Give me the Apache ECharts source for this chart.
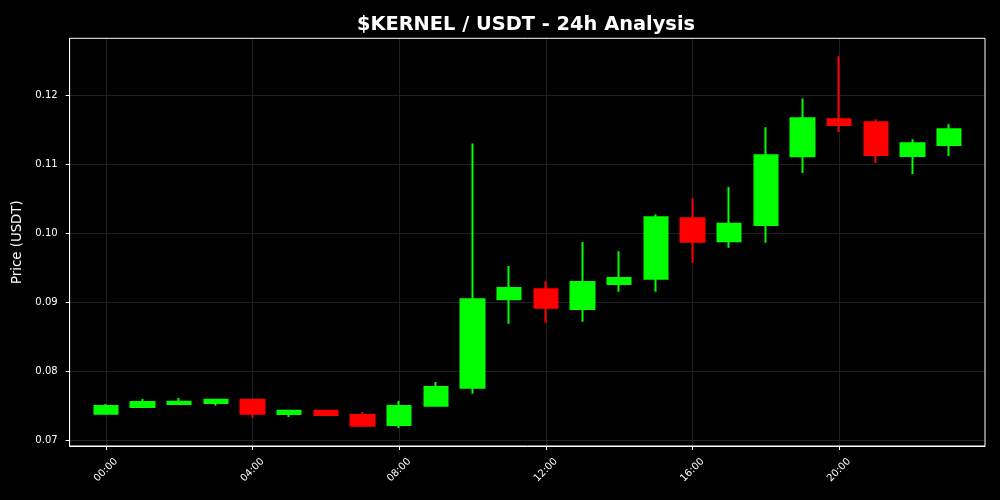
<!DOCTYPE html>
<html>
<head>
<meta charset="utf-8">
<script src="https://cdn.jsdelivr.net/npm/echarts@6/dist/echarts.min.js"></script>
<style>
html,body{margin:0;padding:0;background:#000;}
#chart{width:1000px;height:500px;}
</style>
</head>
<body>
<div id="chart"></div>
<script>
// hours since 00:00
const hours = [0,1,2,3,4,5,6,7,8,9,10,11,12,13,14,15,16,17,18,19,20,21,22,23];
const opens  = [0.07381,0.07478,0.07522,0.07536,0.07584,0.07377,0.07425,0.07362,0.07217,0.07497,0.07758,0.09043,0.09188,0.08899,0.09261,0.09338,0.10217,0.09884,0.10120,0.11116,0.11652,0.11609,0.11120,0.11280];
const closes = [0.07493,0.07551,0.07555,0.07584,0.07381,0.07425,0.07362,0.07207,0.07493,0.07768,0.09043,0.09203,0.08917,0.09290,0.09348,0.10232,0.09874,0.10135,0.11130,0.11667,0.11570,0.11135,0.11304,0.11507];
const lows   = [0.07381,0.07468,0.07512,0.07497,0.07323,0.07333,0.07360,0.07193,0.07174,0.07497,0.07671,0.08686,0.08700,0.08714,0.09149,0.09150,0.09570,0.09787,0.09860,0.10874,0.11468,0.11019,0.10859,0.11120];
const highs  = [0.07522,0.07594,0.07609,0.07599,0.07590,0.07439,0.07440,0.07406,0.07565,0.07841,0.11300,0.09522,0.09304,0.09870,0.09739,0.10275,0.10507,0.10671,0.11536,0.11952,0.12565,0.11652,0.11362,0.11580];
const xTicks = [0,4,8,12,16,20];
const yTicks = [0.07,0.08,0.09,0.10,0.11,0.12];
const titleText = '$KERNEL / USDT - 24h Analysis';
const yName = 'Price (USDT)';

const data = hours.map((h,i)=>[h, opens[i], closes[i], lows[i], highs[i]]);
const pad2 = n => (n<10?'0':'')+n;

const chart = echarts.init(document.getElementById('chart'), null, {renderer:'canvas'});
chart.setOption({
  backgroundColor:'#000000',
  animation:false,
  title:{
    text:titleText, left:521, top:10, textAlign:'center',
    textStyle:{color:'#ffffff', fontFamily:'DejaVu Sans', fontWeight:'bold', fontSize:19.4}
  },
  grid:{left:69.6, right:15, top:38.3, bottom:54},
  xAxis:{
    type:'value', min:-0.99, max:23.98,
    axisLine:{show:true, onZero:false, lineStyle:{color:'#ffffff', width:1}},
    axisTick:{show:true, customValues:xTicks, length:4, lineStyle:{color:'#ffffff'}},
    axisLabel:{customValues:xTicks, rotate:45, align:'center', verticalAlign:'middle',
      color:'#ffffff', fontFamily:'DejaVu Sans', fontSize:10, margin:24,
      formatter:v=>pad2(Math.round(v))+':00'},
    splitLine:{show:true, lineStyle:{color:'#202020', width:1}}
  },
  yAxis:{
    type:'value', min:0.06913, max:0.12826,
    name:yName, nameLocation:'middle', nameGap:41,
    nameTextStyle:{color:'#ffffff', fontFamily:'DejaVu Sans', fontSize:13.3},
    axisLine:{show:true, onZero:false, lineStyle:{color:'#ffffff', width:1}},
    axisTick:{show:true, customValues:yTicks, length:4, lineStyle:{color:'#ffffff'}},
    axisLabel:{customValues:yTicks, color:'#ffffff', fontFamily:'DejaVu Sans', fontSize:10, margin:12,
      formatter:v=>v.toFixed(2)},
    splitLine:{show:true, lineStyle:{color:'#202020', width:1}}
  },
  series:[{
    type:'candlestick',
    data:data,
    encode:{x:0, y:[1,2,3,4]},
    barWidth:24,
    itemStyle:{color:'#00ff00', color0:'#ff0000', borderColor:'#00ff00', borderColor0:'#ff0000', borderWidth:2}
  }],
  graphic:[{
    type:'rect', silent:true, z:100,
    shape:{x:69.6, y:38.3, width:915.4, height:407.7},
    style:{fill:null, stroke:'#ffffff', lineWidth:1}
  }]
});
</script>
</body>
</html>
